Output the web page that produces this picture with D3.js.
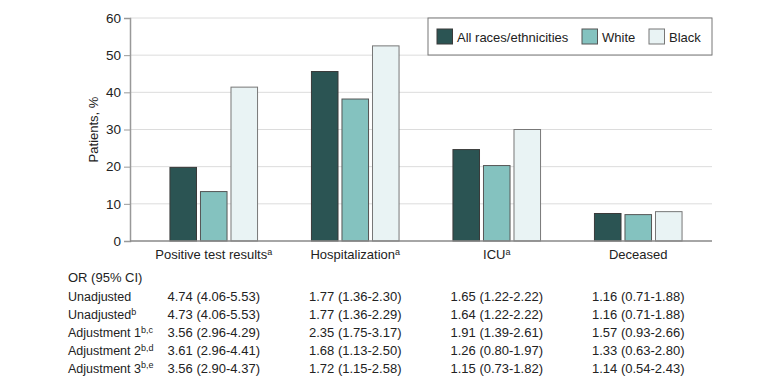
<!DOCTYPE html>
<html>
<head>
<meta charset="utf-8">
<script src="https://cdn.jsdelivr.net/npm/d3@7"></script>
<style>
  body { margin: 0; background: #fff; }
  svg { font-family: "Liberation Sans", Arial, sans-serif; }
</style>
</head>
<body>
<div id="container"></div>
<script>
/* CONSTANTS AND GLOBALS */
const width = 780,
  height = 391,
  margin = { top: 18, bottom: 150, left: 130, right: 68 }
const fontSize = "13px"

// DATA
const categories = ["Positive test results", "Hospitalization", "ICU", "Deceased"]
const catSup = ["a", "a", "a", ""]
const series = ["All races/ethnicities", "White", "Black"]
const allRaces = [19.8, 45.6, 24.6, 7.4]
const white = [13.3, 38.2, 20.3, 7.1]
const black = [41.4, 52.5, 30.0, 7.9]
const yTicks = [0, 10, 20, 30, 40, 50, 60]

const rowLabels = ["Unadjusted", "Unadjusted", "Adjustment 1", "Adjustment 2", "Adjustment 3"]
const rowSups = ["", "b", "b,c", "b,d", "b,e"]
const orPositive = ["4.74 (4.06-5.53)", "4.73 (4.06-5.53)", "3.56 (2.96-4.29)", "3.61 (2.96-4.41)", "3.56 (2.90-4.37)"]
const orHosp = ["1.77 (1.36-2.30)", "1.77 (1.36-2.29)", "2.35 (1.75-3.17)", "1.68 (1.13-2.50)", "1.72 (1.15-2.58)"]
const orIcu = ["1.65 (1.22-2.22)", "1.64 (1.22-2.22)", "1.91 (1.39-2.61)", "1.26 (0.80-1.97)", "1.15 (0.73-1.82)"]
const orDeceased = ["1.16 (0.71-1.88)", "1.16 (0.71-1.88)", "1.57 (0.93-2.66)", "1.33 (0.63-2.80)", "1.14 (0.54-2.43)"]

const colors = ["#2b5453", "#84c2bf", "#e9f3f4"]
const strokes = ["#3a3a3a", "#555", "#777"]

const values = [allRaces, white, black]
const data = categories.flatMap((c, i) => series.map((s, j) => ({ cat: c, series: s, idx: j, value: values[j][i] })))
const orCols = [orPositive, orHosp, orIcu, orDeceased]

// SCALES
const xScale = d3.scaleBand()
  .domain(categories)
  .range([143, 709])

const xSub = d3.scaleBand()
  .domain(series)
  .range([-43.8, 43.8])
  .paddingInner(0.13)

const yScale = d3.scaleLinear()
  .domain([0, 60])
  .range([241, 18])

const cx = c => xScale(c) + xScale.bandwidth() / 2

// SVG
const svg = d3.select("#container")
  .append("svg")
  .attr("width", width)
  .attr("height", height)

// gridlines
svg.append("g")
  .selectAll("line")
  .data(yTicks.slice(1))
  .join("line")
  .attr("x1", margin.left)
  .attr("x2", 712)
  .attr("y1", d => yScale(d))
  .attr("y2", d => yScale(d))
  .attr("stroke", "#dcdcdc")
  .attr("stroke-width", 1)

// AXES
const yAxis = d3.axisLeft(yScale)
  .tickValues(yTicks)
  .tickSize(6)
  .tickPadding(3)

const yAxisGroup = svg.append("g")
  .attr("transform", `translate(${margin.left}, 0)`)
  .call(yAxis)

yAxisGroup.select(".domain").attr("stroke", "#999").attr("stroke-width", 1.5)
yAxisGroup.selectAll(".tick line").attr("stroke", "#999")
yAxisGroup.selectAll(".tick text")
  .attr("fill", "#222")
  .style("font-size", "13.5px")
  .style("font-family", "'Liberation Sans', Arial, sans-serif")

svg.append("text")
  .attr("transform", `translate(98, ${yScale(30)}) rotate(-90)`)
  .attr("text-anchor", "middle")
  .attr("fill", "#222")
  .style("font-size", fontSize)
  .text("Patients, %")

// BARS
svg.append("g")
  .selectAll("rect")
  .data(data)
  .join("rect")
  .attr("x", d => cx(d.cat) + xSub(d.series))
  .attr("width", xSub.bandwidth())
  .attr("y", d => yScale(d.value))
  .attr("height", d => yScale(0) - yScale(d.value))
  .attr("fill", d => colors[d.idx])
  .attr("stroke", d => strokes[d.idx])
  .attr("stroke-width", 1)

// x baseline
svg.append("line")
  .attr("x1", margin.left)
  .attr("x2", 712)
  .attr("y1", yScale(0))
  .attr("y2", yScale(0))
  .attr("stroke", "#888")
  .attr("stroke-width", 1.5)

// category labels
const catLabels = svg.append("g")
  .selectAll("text")
  .data(categories)
  .join("text")
  .attr("x", d => cx(d))
  .attr("y", 259)
  .attr("text-anchor", "middle")
  .attr("fill", "#222")
  .style("font-size", fontSize)
  .text(d => d)

catLabels.append("tspan")
  .attr("dy", "-0.45em")
  .style("font-size", "9px")
  .text((d, i) => catSup[i])

// LEGEND
const legend = svg.append("g")
legend.append("rect")
  .attr("x", 428)
  .attr("y", 18)
  .attr("width", 284)
  .attr("height", 37)
  .attr("fill", "#fff")
  .attr("stroke", "#777")
  .attr("stroke-width", 1)

const legendX = [437, 582, 649]
const legendItems = legend.selectAll(".item")
  .data(series)
  .join("g")
  .attr("transform", (d, i) => `translate(${legendX[i]}, 29)`)

legendItems.append("rect")
  .attr("width", 15.5)
  .attr("height", 15)
  .attr("fill", (d, i) => colors[i])
  .attr("stroke", (d, i) => strokes[i])

legendItems.append("text")
  .attr("x", 20)
  .attr("y", 12.5)
  .attr("fill", "#222")
  .style("font-size", fontSize)
  .text(d => d)

// OR TABLE
svg.append("text")
  .attr("x", 68)
  .attr("y", 282)
  .attr("fill", "#222")
  .style("font-size", fontSize)
  .text("OR (95% CI)")

const rowY = d3.scaleLinear().domain([0, 4]).range([301, 372.5])

const rows = svg.append("g")
  .selectAll("text")
  .data(rowLabels)
  .join("text")
  .attr("x", 68)
  .attr("y", (d, i) => rowY(i))
  .attr("fill", "#222")
  .style("font-size", "12.5px")
  .text(d => d)

rows.append("tspan")
  .attr("dy", "-0.45em")
  .style("font-size", "9px")
  .text((d, i) => rowSups[i])

categories.forEach((c, ci) => {
  svg.append("g")
    .selectAll("text")
    .data(orCols[ci])
    .join("text")
    .attr("x", cx(c))
    .attr("y", (d, i) => rowY(i))
    .attr("text-anchor", "middle")
    .attr("fill", "#222")
    .style("font-size", fontSize)
    .text(d => d)
})
</script>
</body>
</html>
